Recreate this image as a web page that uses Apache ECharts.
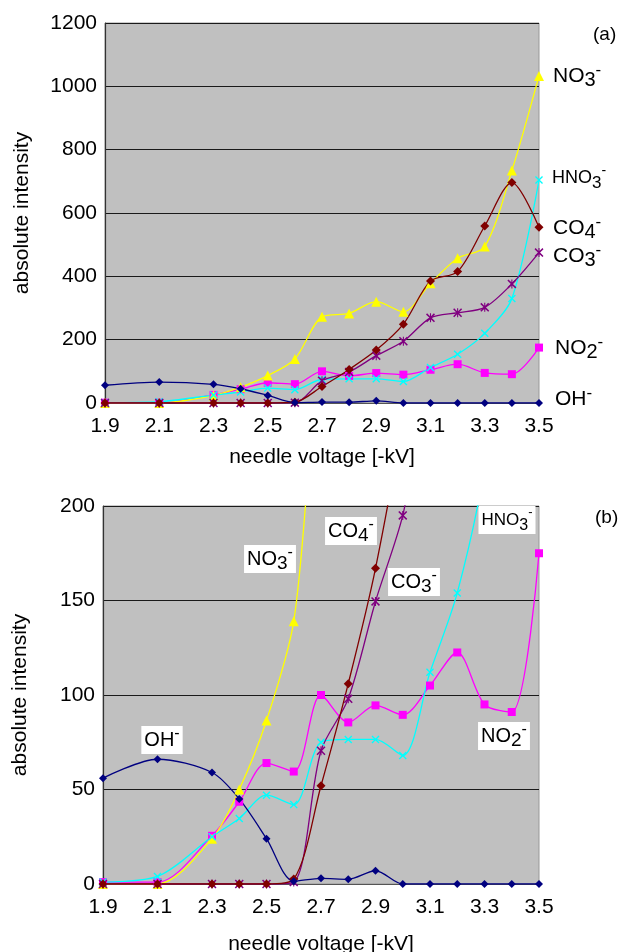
<!DOCTYPE html>
<html>
<head>
<meta charset="utf-8">
<script src="https://cdn.jsdelivr.net/npm/echarts@6/dist/echarts.min.js"></script>
<style>
html,body{margin:0;padding:0;background:#fff;}
#chart{width:623px;height:952px;}
</style>
</head>
<body>
<div id="chart"></div>
<script>
// needle voltage categories [-kV]; no measurements at 2.0 and 2.2
var voltages = ['1.9','2.0','2.1','2.2','2.3','2.4','2.5','2.6','2.7','2.8','2.9','3.0','3.1','3.2','3.3','3.4','3.5'];
var yTicksTop = [0, 200, 400, 600, 800, 1000, 1200];
var yTicksBottom = [0, 50, 100, 150, 200];

var OH   = [56, null, 66, null, 59, 45, 24, 1.5, 3, 2.5, 7, 0, 0, 0, 0, 0, 0];
var NO2  = [1, null, 1, null, 25.5, 43.5, 64, 59.5, 100, 85.5, 94.5, 89.5, 105, 122.5, 95, 91, 175];
var NO3  = [0, null, 0, null, 24, 50, 86.5, 139, 272, 283, 320, 288, 378, 457, 494, 734, 1033];
var HNO3 = [1, null, 4, null, 25, 34.7, 47, 42, 75, 76.5, 76.5, 68, 112, 154, 220, 330, 704];
var CO3  = [0, null, 0, null, 0, 0, 0, 1, 70.5, 98, 149.5, 195, 269, 285, 302, 376, 475];
var CO4  = [0, null, 0, null, 0, 0, 0, 2.6, 52, 106, 167, 249, 385, 415, 559, 696, 555];

var FONT = '"Liberation Sans", Arial, sans-serif';
var X_PATH = 'path://M0,1.2 L1.2,0 L5,3.8 L8.8,0 L10,1.2 L6.2,5 L10,8.8 L8.8,10 L5,6.2 L1.2,10 L0,8.8 L3.8,5 Z';
var STAR_PATH = 'path://M0,1.2 L1.2,0 L5,3.8 L8.8,0 L10,1.2 L6.2,5 L10,8.8 L8.8,10 L5,6.2 L1.2,10 L0,8.8 L3.8,5 Z M4.4,0 L5.6,0 L5.6,10 L4.4,10 Z';

var seriesDefs = [
  {name: 'NO2-', data: NO2, color: '#ff00ff', symbol: 'rect', size: 8},
  {name: 'NO3-', data: NO3, color: '#ffff00', symbol: 'triangle', size: 10},
  {name: 'HNO3-', data: HNO3, color: '#00ffff', symbol: X_PATH, size: 8},
  {name: 'CO3-', data: CO3, color: '#800080', symbol: STAR_PATH, size: 9},
  {name: 'CO4-', data: CO4, color: '#800000', symbol: 'diamond', size: 9},
  {name: 'OH-', data: OH, color: '#000080', symbol: 'diamond', size: 8}
];

var series = [];
[0, 1].forEach(function (g) {
  seriesDefs.forEach(function (d) {
    series.push({
      name: d.name, type: 'line', xAxisIndex: g, yAxisIndex: g,
      data: d.data, connectNulls: true, smooth: 0.3,
      symbol: d.symbol, symbolSize: d.size, showAllSymbol: true,
      lineStyle: {color: d.color, width: 1.3},
      itemStyle: {color: d.color, borderWidth: 0},
      clip: true, animation: false, z: 3
    });
  });
});

function xAxisDef(g, gap) {
  return {
    type: 'category', gridIndex: g, data: voltages, boundaryGap: false,
    axisLine: {show: true, lineStyle: {color: '#555', width: 1}},
    axisTick: {show: false},
    axisLabel: {interval: 1, color: '#000', fontSize: 21, fontFamily: FONT, margin: 13},
    splitLine: {show: false},
    name: 'needle voltage [-kV]', nameLocation: 'middle', nameGap: gap,
    nameTextStyle: {color: '#000', fontSize: 21, fontFamily: FONT}
  };
}
function yAxisDef(g, ticks) {
  return {
    type: 'value', gridIndex: g, min: ticks[0], max: ticks[ticks.length - 1],
    interval: ticks[1] - ticks[0],
    axisLine: {show: true, lineStyle: {color: '#333', width: 1.2}},
    axisTick: {show: false},
    axisLabel: {color: '#000', fontSize: 21, fontFamily: FONT, margin: 8,
      formatter: function (v) { return String(v); }},
    splitLine: {show: true, lineStyle: {color: '#1a1a1a', width: 1.2}},
    name: 'absolute intensity', nameLocation: 'middle', nameGap: 72,
    nameTextStyle: {color: '#000', fontSize: 21, fontFamily: FONT}
  };
}

function rich(base, sub, size, boxed) {
  var t = '{m|' + base + '}' + (sub ? '{s|' + sub + '}' : '') + '{p|-}';
  var st = {
    text: t, fill: '#000', fontFamily: FONT,
    rich: {
      m: {fontSize: size, lineHeight: 28, fontFamily: FONT, fill: '#000'},
      s: {fontSize: size - 1, lineHeight: 16, verticalAlign: 'bottom', fontFamily: FONT, fill: '#000'},
      p: {fontSize: size - 4, lineHeight: 10, verticalAlign: 'top', fontFamily: FONT, fill: '#000'}
    }
  };
  if (boxed) { st.backgroundColor = '#fff'; st.padding = [0, 3, 0, 3]; st.align = 'center'; st.verticalAlign = 'middle'; }
  else { st.align = 'left'; st.verticalAlign = 'middle'; }
  return st;
}
function txt(x, y, style) { return {type: 'text', x: x, y: y, z: 100, style: style}; }

var graphics = [
  txt(593, 35, {text: '(a)', fontSize: 19, fontFamily: FONT, fill: '#000', align: 'left', verticalAlign: 'middle'}),
  txt(553, 76, rich('NO', '3', 21, false)),
  txt(552, 178, rich('HNO', '3', 18, false)),
  txt(553, 228, rich('CO', '4', 21, false)),
  txt(553, 256, rich('CO', '3', 21, false)),
  txt(555, 348, rich('NO', '2', 21, false)),
  txt(555, 399, rich('OH', '', 21, false)),
  txt(595, 518, {text: '(b)', fontSize: 19, fontFamily: FONT, fill: '#000', align: 'left', verticalAlign: 'middle'}),
  txt(270, 559, rich('NO', '3', 20, true)),
  txt(162, 740, rich('OH', '', 20, true)),
  txt(351, 531, rich('CO', '4', 20, true)),
  txt(414, 582, rich('CO', '3', 20, true)),
  txt(507, 520, rich('HNO', '3', 17, true)),
  txt(504, 736, rich('NO', '2', 20, true))
];

var chart = echarts.init(document.getElementById('chart'), null, {renderer: 'canvas'});
chart.setOption({
  backgroundColor: '#fff',
  animation: false,
  grid: [
    {left: 105, top: 23, width: 434, height: 380, show: true, backgroundColor: '#c0c0c0', borderColor: '#999', borderWidth: 1, outerBoundsMode: 'none', containLabel: false},
    {left: 103, top: 506, width: 436, height: 378, show: true, backgroundColor: '#c0c0c0', borderColor: '#999', borderWidth: 1, outerBoundsMode: 'none', containLabel: false}
  ],
  xAxis: [xAxisDef(0, 44), xAxisDef(1, 50)],
  yAxis: [yAxisDef(0, yTicksTop), yAxisDef(1, yTicksBottom)],
  series: series,
  graphic: graphics
});
</script>
</body>
</html>
